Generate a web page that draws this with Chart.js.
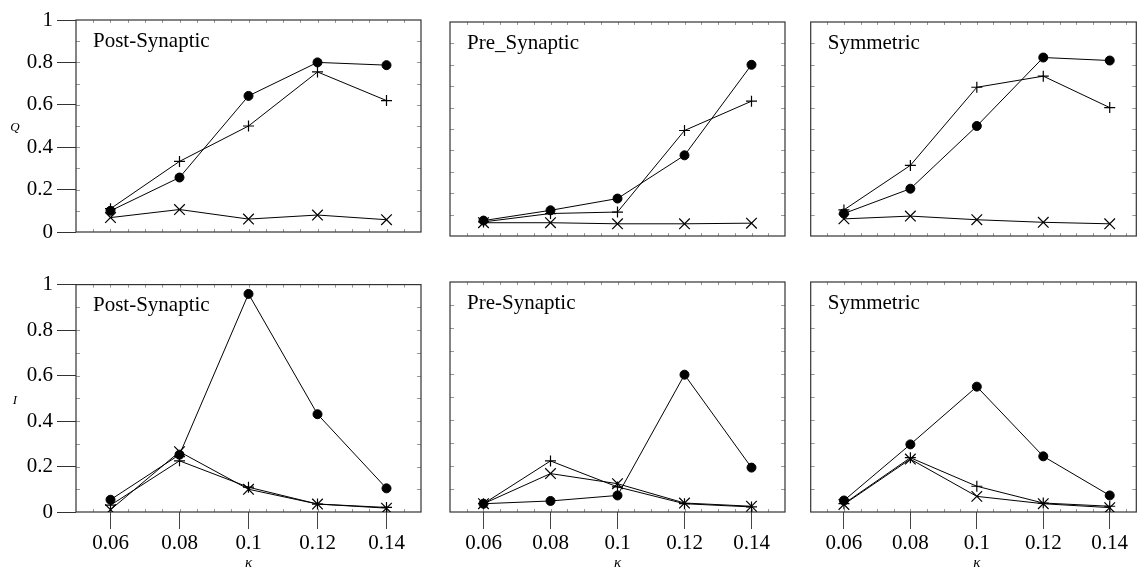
<!DOCTYPE html>
<html lang="en">
<head>
<meta charset="UTF-8" />
<script src="https://cdn.jsdelivr.net/npm/chart.js"></script>
<title>Q and I against kappa</title>
<style>
  body { margin: 0; background: #fff; }
  #wrap { position: relative; width: 1145px; height: 575px; overflow: hidden; }
</style>
</head>
<body>
<div id="wrap"></div>
<script>
const kappa = [0.06, 0.08, 0.1, 0.12, 0.14];
const yTicks = [0, 0.2, 0.4, 0.6, 0.8, 1];

// top row: Q
const qPostDot   = [0.10, 0.257, 0.642, 0.80, 0.787];
const qPostPlus  = [0.11, 0.333, 0.50, 0.755, 0.62];
const qPostCross = [0.068, 0.106, 0.061, 0.08, 0.058];

const qPreDot   = [0.072, 0.12, 0.175, 0.377, 0.80];
const qPrePlus  = [0.066, 0.105, 0.112, 0.493, 0.63];
const qPreCross = [0.062, 0.062, 0.057, 0.057, 0.06];

const qSymDot   = [0.105, 0.221, 0.514, 0.834, 0.82];
const qSymPlus  = [0.122, 0.33, 0.695, 0.747, 0.60];
const qSymCross = [0.08, 0.093, 0.076, 0.064, 0.057];

// bottom row: I
const iPostDot   = [0.054, 0.252, 0.959, 0.43, 0.104];
const iPostPlus  = [0.03, 0.225, 0.109, 0.035, 0.02];
const iPostCross = [0.01, 0.265, 0.10, 0.035, 0.017];

const iPreDot   = [0.036, 0.048, 0.072, 0.597, 0.193];
const iPrePlus  = [0.036, 0.222, 0.109, 0.036, 0.022];
const iPreCross = [0.036, 0.167, 0.123, 0.039, 0.025];

const iSymDot   = [0.05, 0.294, 0.545, 0.242, 0.072];
const iSymPlus  = [0.036, 0.236, 0.112, 0.039, 0.025];
const iSymCross = [0.033, 0.23, 0.068, 0.036, 0.019];

const serif = '"Liberation Serif", "Times New Roman", serif';

// box, minor ticks, panel title and axis letters
const framePlugin = {
  id: 'frame',
  beforeDatasetsDraw(chart, args, opts) {
    const { ctx, chartArea: a, scales: { x, y } } = chart;
    ctx.save();
    ctx.strokeStyle = '#999';
    ctx.lineWidth = 1;
    ctx.beginPath();
    for (let v = 0.1; v < 0.95; v += 0.1) {
      const py = Math.round(y.getPixelForValue(v)) + 0.5;
      ctx.moveTo(a.left, py); ctx.lineTo(a.left + 4, py);
      ctx.moveTo(a.right, py); ctx.lineTo(a.right - 4, py);
    }
    for (let v = x.min + 0.005; v < x.max - 1e-6; v += 0.005) {
      const px = Math.round(x.getPixelForValue(v)) + 0.5;
      ctx.moveTo(px, a.top); ctx.lineTo(px, a.top + 3);
      ctx.moveTo(px, a.bottom); ctx.lineTo(px, a.bottom - 3);
    }
    ctx.stroke();

    ctx.strokeStyle = '#333';
    ctx.lineWidth = 1.2;
    ctx.strokeRect(a.left, a.top, a.right - a.left, a.bottom - a.top);

    ctx.fillStyle = '#000';
    ctx.font = '21px ' + serif;
    ctx.textBaseline = 'middle';
    ctx.textAlign = 'left';
    ctx.fillText(opts.title, a.left + 17, a.top + 21);

    if (opts.yLabel) {
      ctx.font = 'italic 13px ' + serif;
      ctx.textAlign = 'center';
      ctx.fillText(opts.yLabel, 15, (a.top + a.bottom) / 2 + 2);
    }
    if (opts.xLabel) {
      ctx.font = 'italic 15px ' + serif;
      ctx.textAlign = 'center';
      ctx.fillText('κ', x.getPixelForValue(0.1), a.bottom + 51);
    }
    ctx.restore();
  }
};

function series(values, style) {
  const pts = kappa.map((k, i) => ({ x: k, y: values[i] }));
  const common = {
    data: pts,
    borderColor: '#000',
    borderWidth: 1,
    tension: 0,
    fill: false,
    pointBorderColor: '#000',
    pointBackgroundColor: '#000'
  };
  if (style === 'dot') return { ...common, pointStyle: 'circle', pointRadius: 4.5, pointBorderWidth: 1 };
  if (style === 'plus') return { ...common, pointStyle: 'cross', pointRadius: 5.5, pointBorderWidth: 1.2 };
  return { ...common, pointStyle: 'crossRot', pointRadius: 7.5, pointBorderWidth: 1.2 };
}

function panel(left, top, width, height, box, data, opt) {
  const canvas = document.createElement('canvas');
  canvas.width = width;
  canvas.height = height;
  canvas.style.cssText = `position:absolute;left:${left}px;top:${top}px;width:${width}px;height:${height}px;`;
  document.getElementById('wrap').appendChild(canvas);

  const showY = !!opt.yLabel;
  const showX = !!opt.xLabel;

  new Chart(canvas, {
    type: 'line',
    data: {
      datasets: [series(data[0], 'dot'), series(data[1], 'plus'), series(data[2], 'cross')]
    },
    plugins: [framePlugin],
    options: {
      responsive: false,
      animation: false,
      events: [],
      layout: {
        padding: {
          left: showY ? 0 : box.l - left,
          top: box.t - top,
          right: left + width - box.r,
          bottom: showX ? 0 : top + height - box.b
        }
      },
      scales: {
        x: {
          type: 'linear',
          min: 0.05,
          max: opt.xMax || 0.15,
          display: showX,
          afterBuildTicks: s => { s.ticks = kappa.map(v => ({ value: v })); },
          afterFit: s => { s.height = top + height - box.b; },
          grid: { drawOnChartArea: false, drawTicks: true, tickLength: 17, color: '#444' },
          border: { display: false },
          ticks: {
            color: '#000',
            padding: 2,
            maxRotation: 0,
            autoSkip: false,
            font: { family: serif, size: 21 },
            callback: v => String(v)
          }
        },
        y: {
          min: 0,
          max: 1,
          display: showY,
          afterBuildTicks: s => { s.ticks = yTicks.map(v => ({ value: v })); },
          afterFit: s => { s.width = box.l - left; },
          grid: { drawOnChartArea: false, drawTicks: true, tickLength: 19, color: '#333' },
          border: { display: false },
          ticks: {
            color: '#000',
            padding: 4,
            font: { family: serif, size: 21 },
            callback: v => String(v)
          }
        }
      },
      plugins: {
        legend: { display: false },
        tooltip: { enabled: false },
        frame: { title: opt.title, yLabel: opt.yLabel, xLabel: opt.xLabel }
      }
    }
  });
}

panel(0, 0, 432, 268, { l: 76, t: 20, r: 421, b: 250 },
  [qPostDot, qPostPlus, qPostCross], { title: 'Post-Synaptic', yLabel: 'Q' });
panel(432, 0, 370, 268, { l: 441, t: 22, r: 785, b: 252 },
  [qPreDot, qPrePlus, qPreCross], { title: 'Pre_Synaptic' });
panel(802, 0, 343, 268, { l: 805.5, t: 22, r: 1144, b: 252 },
  [qSymDot, qSymPlus, qSymCross], { title: 'Symmetric', xMax: 0.148 });

panel(0, 268, 432, 307, { l: 76, t: 282, r: 421, b: 512 },
  [iPostDot, iPostPlus, iPostCross], { title: 'Post-Synaptic', yLabel: 'I', xLabel: true });
panel(432, 268, 370, 307, { l: 441, t: 282, r: 785, b: 512 },
  [iPreDot, iPrePlus, iPreCross], { title: 'Pre-Synaptic', xLabel: true });
panel(802, 268, 343, 307, { l: 805, t: 282, r: 1144, b: 512 },
  [iSymDot, iSymPlus, iSymCross], { title: 'Symmetric', xLabel: true, xMax: 0.148 });
</script>
</body>
</html>
